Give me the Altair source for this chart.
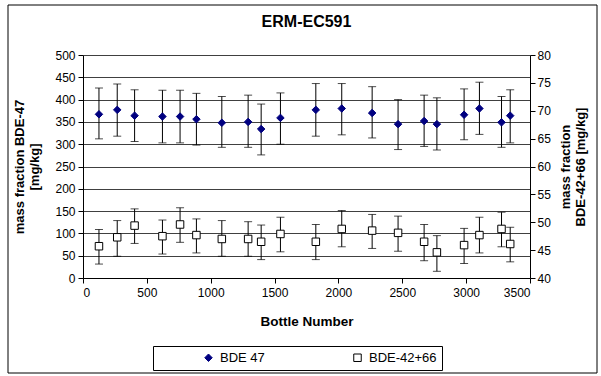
import altair as alt
import pandas as pd

# ---- data ----
bottles = [125, 268, 404, 622, 760, 888, 1087, 1293, 1395, 1546,
           1823, 2026, 2264, 2467, 2671, 2771, 2984, 3104, 3277, 3345]
bde47 = [367, 377, 364, 362, 362, 356, 348, 350, 334, 359,
         377, 380, 370, 345, 352, 345, 366, 380, 349, 364]
bde47_low = [312, 318, 306, 303, 303, 298, 293, 293, 276, 300,
             318, 321, 314, 288, 295, 287, 310, 322, 293, 303]
bde47_high = [426, 435, 422, 421, 421, 414, 407, 410, 390, 415,
              436, 436, 429, 400, 410, 404, 424, 439, 407, 422]
bde4266 = [45.7, 47.3, 49.4, 47.5, 49.6, 47.7, 47.0, 47.0, 46.5, 47.9,
           46.5, 48.8, 48.5, 48.1, 46.5, 44.6, 45.9, 47.7, 48.8, 46.1]
bde4266_low = [42.5, 43.9, 46.2, 44.3, 46.4, 44.5, 43.9, 43.9, 43.3, 44.7,
               43.3, 45.6, 45.3, 44.8, 43.1, 41.2, 42.6, 44.5, 45.6, 42.9]
bde4266_high = [48.7, 50.3, 52.4, 50.4, 52.6, 50.6, 50.3, 50.1, 49.5, 50.9,
                49.6, 52.1, 51.4, 51.1, 49.6, 47.6, 48.9, 50.9, 51.8, 49.1]
series_names = ["BDE 47", "BDE-42+66"]
x_ticks = [0, 500, 1000, 1500, 2000, 2500, 3000, 3500]
left_ticks = list(range(0, 501, 50))
right_ticks = list(range(40, 81, 5))

df47 = pd.DataFrame({"bottle": bottles, "value": bde47, "low": bde47_low,
                     "high": bde47_high, "series": series_names[0]})
df66 = pd.DataFrame({"bottle": bottles, "value": bde4266, "low": bde4266_low,
                     "high": bde4266_high, "series": series_names[1]})

W, H = 447, 223
FONT = "Liberation Sans"

x_axis = alt.Axis(values=x_ticks, title="Bottle Number", grid=False, format="d",
                  labelFontSize=12, titleFontSize=13.5, titleFontWeight="bold",
                  titlePadding=16, tickSize=5, labelPadding=4, labelOverlap=False,
                  domainColor="black", tickColor="black", labelColor="black")
x_scale = alt.Scale(domain=[0, 3500], nice=False)

fill_scale = alt.Scale(domain=series_names, range=["#000080", "#ffffff"])
stroke_scale = alt.Scale(domain=series_names, range=["#000080", "#000000"])
shape_scale = alt.Scale(domain=series_names, range=["diamond", "square"])

pad = "\u00a0" * 5
legend = alt.Legend(
    title=None,
    labelExpr=f"datum.label == 'BDE-42+66' ? datum.label + '{pad}' : datum.label")


def series_layer(df, domain, axis):
    y_scale = alt.Scale(domain=domain, nice=False, zero=False)
    xe = alt.X("bottle:Q", scale=x_scale, axis=x_axis)
    base = alt.Chart(df)
    rules = base.mark_rule(color="black", strokeWidth=1).encode(
        x=xe, y=alt.Y("low:Q", scale=y_scale, axis=axis), y2="high:Q")
    cap_lo = base.mark_tick(orient="horizontal", color="black", size=8, thickness=1).encode(
        x=xe, y=alt.Y("low:Q", scale=y_scale, axis=axis))
    cap_hi = base.mark_tick(orient="horizontal", color="black", size=8, thickness=1).encode(
        x=xe, y=alt.Y("high:Q", scale=y_scale, axis=axis))
    pts = base.mark_point(filled=True, opacity=1, strokeWidth=1).encode(
        x=xe, y=alt.Y("value:Q", scale=y_scale, axis=axis),
        fill=alt.Fill("series:N", scale=fill_scale, legend=legend),
        stroke=alt.Stroke("series:N", scale=stroke_scale, legend=legend),
        shape=alt.Shape("series:N", scale=shape_scale, legend=legend),
        size=alt.value(56))
    return alt.layer(rules, cap_lo, cap_hi, pts)


left_axis = alt.Axis(values=left_ticks, orient="left", labelOverlap=False,
                     title=["mass fraction BDE-47", "[mg/kg]"],
                     titleFontSize=13, titleFontWeight="bold", titlePadding=13,
                     labelFontSize=12, tickSize=5, labelPadding=3,
                     grid=True, gridColor="#404040", gridWidth=1,
                     domainColor="black", tickColor="black", labelColor="black")
right_axis = alt.Axis(values=right_ticks, orient="right", labelOverlap=False,
                      title=["mass fraction", "BDE-42+66  [mg/kg]"], titleAngle=270,
                      titleFontSize=13, titleFontWeight="bold", titlePadding=7,
                      labelFontSize=12, tickSize=5, labelPadding=2, grid=False,
                      domainColor="black", tickColor="black", labelColor="black")

layer47 = series_layer(df47, [0, 500], left_axis)
layer66 = series_layer(df66, [40, 80], right_axis)

frame = alt.Chart(pd.DataFrame({"a": [0]})).mark_rect(
    fill=None, stroke="black", strokeWidth=1).encode(
    x=alt.value(-75), x2=alt.value(514), y=alt.value(-50), y2=alt.value(318))

chart = alt.layer(layer47, layer66, frame).resolve_scale(y="independent").properties(
    width=W, height=H,
    title=alt.TitleParams("ERM-EC591", fontSize=16, fontWeight="bold", offset=-25,
                          font=FONT, color="black", frame="group"),
    autosize=alt.AutoSizeParams(type="none"),
    padding={"left": 83, "top": 55, "right": 71, "bottom": 98},
).configure(font=FONT).configure_view(stroke=None).configure_legend(
    orient="none", legendX=70, legendY=291, direction="horizontal", columns=2,
    strokeColor="black", padding=5, labelFontSize=13, labelColor="black",
    symbolOffset=44, columnPadding=42, labelOffset=5, symbolStrokeWidth=1,
    symbolSize=56, fillColor="white"
).configure_axis(labelFont=FONT, titleFont=FONT)

chart.save("out.html", embed_options={"renderer": "svg", "actions": False})
